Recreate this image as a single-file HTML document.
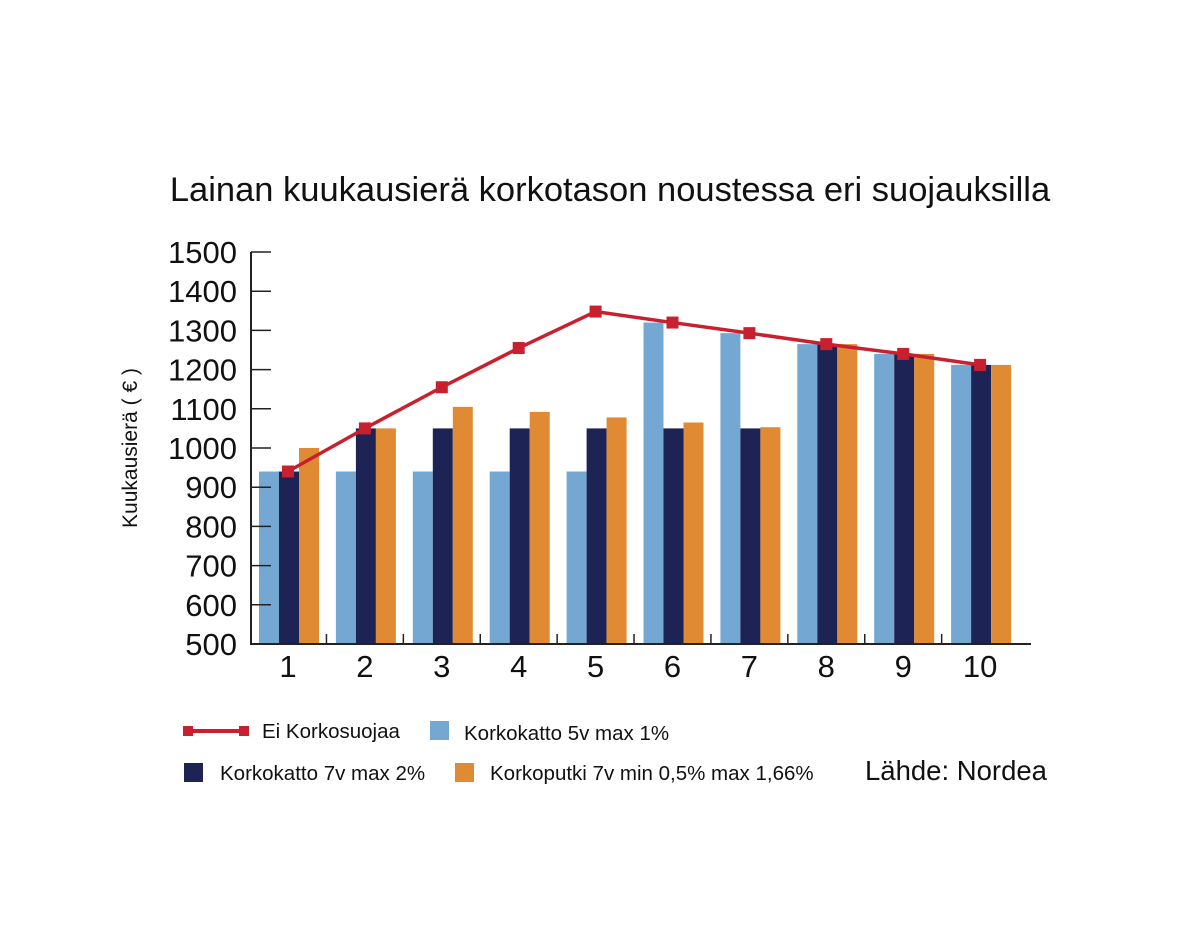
<!DOCTYPE html>
<html><head><meta charset="utf-8"><style>
body{margin:0;background:#fff;width:1199px;height:939px;overflow:hidden;font-family:"Liberation Sans",sans-serif}
</style></head><body>
<svg id="chart" width="1199" height="939" xmlns="http://www.w3.org/2000/svg" font-family="Liberation Sans, sans-serif">
<text x="610" y="201" text-anchor="middle" font-size="34.5" fill="#111">Lainan kuukausierä korkotason noustessa eri suojauksilla</text>
<text transform="translate(137,448) rotate(-90)" text-anchor="middle" font-size="21" fill="#111">Kuukausierä ( € )</text>
<g id="bars"></g>
<g id="axes"></g>
<g id="line"></g>
<g>
<line x1="185" y1="731" x2="247" y2="731" stroke="#c8202f" stroke-width="4"/>
<rect x="183" y="726" width="10" height="10" fill="#c8202f"/><rect x="239" y="726" width="10" height="10" fill="#c8202f"/>
<text x="262" y="738" font-size="20.5" fill="#111">Ei Korkosuojaa</text>
<rect x="430" y="721" width="19" height="19" fill="#74a7d1"/>
<text x="464" y="740" font-size="20.5" fill="#111">Korkokatto 5v max 1%</text>
<rect x="184" y="763" width="19" height="19" fill="#1e2355"/>
<text x="220" y="780" font-size="20.5" fill="#111">Korkokatto 7v max 2%</text>
<rect x="455" y="763" width="19" height="19" fill="#e08a34"/>
<text x="490" y="780" font-size="20.5" fill="#111">Korkoputki 7v min 0,5% max 1,66%</text>
</g>
<text x="865" y="780" font-size="27.5" fill="#111">Lähde: Nordea</text>
</svg>
<script>
const categories=["1","2","3","4","5","6","7","8","9","10"];
const cap5=[940,940,940,940,940,1320,1293,1265,1240,1212];
const cap7=[940,1050,1050,1050,1050,1050,1050,1265,1240,1212];
const collar=[1000,1050,1105,1092,1078,1065,1053,1265,1240,1212];
const noProtection=[940,1050,1155,1255,1348,1320,1293,1265,1240,1212];
const yTicks=[500,600,700,800,900,1000,1100,1200,1300,1400,1500];
const NS="http://www.w3.org/2000/svg";
const X0=251,Y0=644,Y1=252,vMin=500,vMax=1500,first=288,step=76.9;
const y=v=>Y0-(v-vMin)/(vMax-vMin)*(Y0-Y1);
const x=i=>first+i*step;
function mk(t,a,p){const e=document.createElementNS(NS,t);for(const k in a)e.setAttribute(k,a[k]);p.appendChild(e);return e;}
const bars=document.getElementById('bars'),axes=document.getElementById('axes'),line=document.getElementById('line');
const series=[[cap5,"#74a7d1",-19,"bar-cap5"],[cap7,"#1e2355",1,"bar-cap7"],[collar,"#e08a34",21,"bar-collar"]];
yTicks.forEach(t=>{const l=mk('line',{x1:X0,x2:X0+20,y1:y(t),y2:y(t),stroke:'#222','stroke-width':1.5},axes);


const tx=mk('text',{x:X0-14,y:y(t)+11,'text-anchor':'end','font-size':31,fill:'#111'},axes);tx.textContent=t;

});
categories.forEach((c,i)=>{series.forEach(s=>{const v=s[0][i];
const r=mk('rect',{x:x(i)+s[2]-10,y:y(v),width:20,height:Y0-y(v),fill:s[1]},bars);

});
const tx=mk('text',{x:x(i),y:677,'text-anchor':'middle','font-size':31,fill:'#111'},axes);tx.textContent=c;


if(i>0){const t=mk('line',{x1:x(i)-step/2,x2:x(i)-step/2,y1:Y0,y2:Y0-10,stroke:'#222','stroke-width':1.5},axes);

}});
const ax=mk('path',{d:`M${X0} ${Y1}V${Y0}H1031`,fill:'none',stroke:'#222','stroke-width':2},axes);


const pl=mk('polyline',{points:noProtection.map((v,i)=>x(i)+','+y(v)).join(' '),fill:'none',stroke:'#c8202f','stroke-width':3.5},line);


noProtection.forEach((v,i)=>{const m=mk('rect',{x:x(i)-6,y:y(v)-6,width:12,height:12,fill:'#c8202f'},line);

});
</script>
</body></html>
